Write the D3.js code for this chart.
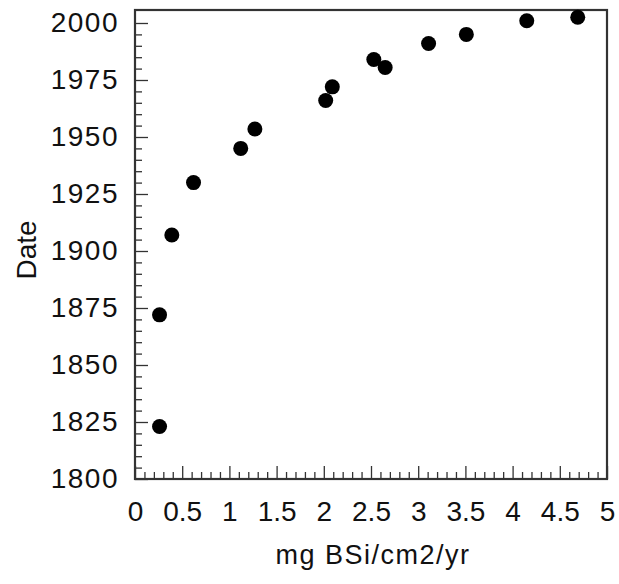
<!DOCTYPE html>
<html>
<head>
<meta charset="utf-8">
<script src="https://cdn.jsdelivr.net/npm/d3@7"></script>
<style>
  body { margin: 0; background: #fff; }
  text { font-family: "Liberation Sans", Arial, Helvetica, sans-serif; fill: #111; }
</style>
</head>
<body>
<div id="chart"></div>
<script>
// flux of biogenic silica vs core date
var flux = [0.26, 0.26, 0.39, 0.62, 1.12, 1.27, 2.02, 2.09, 2.53, 2.65, 3.11, 3.51, 4.15, 4.69];
var dates = [1823, 1872, 1907, 1930, 1945, 1953.5, 1966, 1972, 1984, 1980.5, 1991, 1995, 2001, 2002.5];

var xTicks = [0, 0.5, 1, 1.5, 2, 2.5, 3, 3.5, 4, 4.5, 5];
var yTicks = [1800, 1825, 1850, 1875, 1900, 1925, 1950, 1975, 2000];

var xTitle = "mg BSi/cm2/yr";
var yTitle = "Date";

var width = 619, height = 584;
var plotLeft = 135, plotRight = 607, plotTop = 10, plotBottom = 479;

var svg = d3.select("#chart").append("svg")
    .attr("width", width)
    .attr("height", height);

var x = d3.scaleLinear().domain([0, 5]).range([plotLeft, plotRight]);
var y = d3.scaleLinear().domain([1800, 2005.7]).range([plotBottom, plotTop]);

// minor ticks (inward)
var xMinor = d3.range(0, 5.001, 0.1).filter(function(v) { return Math.abs(v * 2 - Math.round(v * 2)) > 0.01; });
var yMinor = d3.range(1800, 2005, 5).filter(function(v) { return v % 25 != 0; });

svg.append("g")
    .attr("transform", "translate(0," + plotBottom + ")")
    .call(d3.axisBottom(x).tickValues(xMinor).tickSize(-7).tickFormat(""))
    .call(function(g) { g.select(".domain").remove(); })
    .selectAll("line").attr("stroke", "#333").attr("stroke-width", 1.3);

svg.append("g")
    .attr("transform", "translate(" + plotLeft + ",0)")
    .call(d3.axisLeft(y).tickValues(yMinor).tickSize(-7).tickFormat(""))
    .call(function(g) { g.select(".domain").remove(); })
    .selectAll("line").attr("stroke", "#333").attr("stroke-width", 1.3);

// major ticks + labels
var xAxis = svg.append("g")
    .attr("transform", "translate(0," + plotBottom + ")")
    .call(d3.axisBottom(x).tickValues(xTicks).tickSize(-13).tickPadding(22).tickFormat(d3.format("")));
xAxis.select(".domain").remove();
xAxis.selectAll("line").attr("stroke", "#333").attr("stroke-width", 1.3);
xAxis.selectAll("text")
    .attr("font-size", 28)
    .style("font-family", "'Liberation Sans', Arial, sans-serif")
    .attr("fill", "#111");

var yAxis = svg.append("g")
    .attr("transform", "translate(" + plotLeft + ",0)")
    .call(d3.axisLeft(y).tickValues(yTicks).tickSize(-13).tickPadding(16).tickFormat(d3.format("d")));
yAxis.select(".domain").remove();
yAxis.selectAll("line").attr("stroke", "#333").attr("stroke-width", 1.3);
yAxis.selectAll("text")
    .attr("font-size", 28)
    .attr("letter-spacing", 1.5)
    .style("font-family", "'Liberation Sans', Arial, sans-serif")
    .attr("fill", "#111");

// frame
svg.append("rect")
    .attr("x", plotLeft)
    .attr("y", plotTop)
    .attr("width", plotRight - plotLeft)
    .attr("height", plotBottom - plotTop)
    .attr("fill", "none")
    .attr("stroke", "#333")
    .attr("stroke-width", 2.2);

// points
svg.append("g")
    .selectAll("circle")
    .data(flux)
    .enter()
    .append("circle")
    .attr("cx", function(d) { return x(d); })
    .attr("cy", function(d, i) { return y(dates[i]); })
    .attr("r", 7.5)
    .attr("fill", "#000");

// axis titles
svg.append("text")
    .attr("x", (plotLeft + plotRight) / 2 + 2)
    .attr("y", 564)
    .attr("text-anchor", "middle")
    .attr("font-size", 27)
    .attr("letter-spacing", 1.5)
    .text(xTitle);

svg.append("text")
    .attr("transform", "translate(36,250) rotate(-90)")
    .attr("text-anchor", "middle")
    .attr("font-size", 28)
    .text(yTitle);
</script>
</body>
</html>
